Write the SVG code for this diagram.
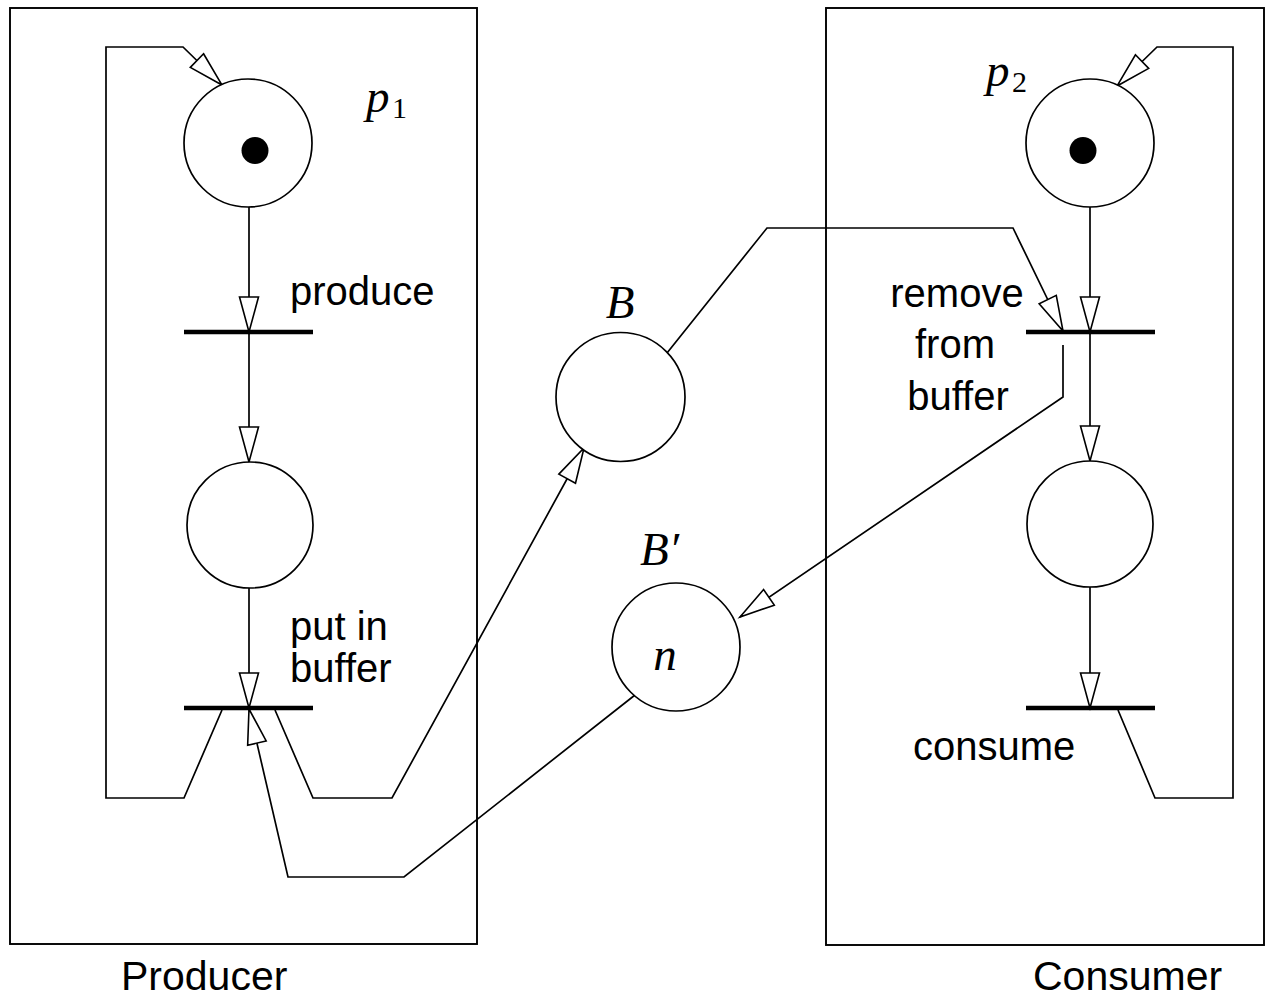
<svg xmlns="http://www.w3.org/2000/svg" width="1274" height="998" viewBox="0 0 1274 998">
  <defs>
    <marker id="open-arrow" markerUnits="userSpaceOnUse" markerWidth="40" markerHeight="24" viewBox="-2 -12 40 24" refX="35" refY="0" orient="auto">
      <path d="M0,-9.5 L35,0 L0,9.5 Z" fill="#fff" stroke="#000" stroke-width="1.6" stroke-linejoin="miter"/>
    </marker>
  </defs>
  <style>
    .box { fill: none; stroke: #000; stroke-width: 1.9; }
    .place { fill: #fff; stroke: #000; stroke-width: 1.7; }
    .token { fill: #000; }
    .bar { stroke: #000; stroke-width: 4.5; }
    .arc { fill: none; stroke: #000; stroke-width: 1.7; stroke-linejoin: miter; }
    .arr { marker-end: url(#open-arrow); }
    .lbl { font-family: "Liberation Sans", Arial, sans-serif; font-size: 40px; fill: #000; }
    .cap { font-family: "Liberation Sans", Arial, sans-serif; font-size: 41px; fill: #000; }
    .math { font-family: "Liberation Serif", "Times New Roman", serif; font-style: italic; font-size: 47px; fill: #000; }
    .sub { font-family: "Liberation Serif", "Times New Roman", serif; font-size: 30px; fill: #000; }
  </style>

  <rect width="1274" height="998" fill="#fff"/>

  <!-- process boundaries -->
  <g id="producer-box">
    <rect class="box" x="10" y="8" width="467" height="936"/>
    <text class="cap" x="121" y="990">Producer</text>
  </g>
  <g id="consumer-box">
    <rect class="box" x="826" y="8" width="438" height="937"/>
    <text class="cap" x="1033" y="990">Consumer</text>
  </g>

  <!-- arcs -->
  <g id="connectors">
    <path class="arc arr" d="M249,207 L249,332"/>
    <path class="arc arr" d="M249,332 L249,462"/>
    <path class="arc arr" d="M249,588 L249,708"/>
    <path class="arc arr" d="M222,710 L184,798 L106,798 L106,47 L183,47 L222,85"/>
    <path class="arc arr" d="M275,710 L313,798 L392,798 L584,448"/>
    <path class="arc arr" d="M635,695 L404,877 L288,877 L249,709"/>
    <path class="arc arr" d="M663,358 L767,228 L1013,228 L1063,331"/>
    <path class="arc arr" d="M1063,345 L1063,397 L740,617"/>
    <path class="arc arr" d="M1090,207 L1090,332"/>
    <path class="arc arr" d="M1090,332 L1090,461"/>
    <path class="arc arr" d="M1090,587 L1090,708"/>
    <path class="arc arr" d="M1118,710 L1155,798 L1233,798 L1233,47 L1157,47 L1117,86"/>
  </g>

  <!-- producer side -->
  <g id="p1">
    <circle class="place" cx="248" cy="143" r="64"/>
    <circle class="token" cx="255" cy="150.5" r="13.5"/>
    <text class="math" x="366" y="112">p</text>
    <text class="sub" x="392" y="118">1</text>
  </g>
  <g id="produce">
    <line class="bar" x1="184" y1="332" x2="313" y2="332"/>
    <text class="lbl" x="290" y="305">produce</text>
  </g>
  <g id="ready-to-deliver">
    <circle class="place" cx="250" cy="525" r="63"/>
  </g>
  <g id="put-in-buffer">
    <line class="bar" x1="184" y1="708" x2="313" y2="708"/>
    <text class="lbl" x="290" y="640">put in</text>
    <text class="lbl" x="290" y="682">buffer</text>
  </g>

  <!-- buffer places -->
  <g id="B">
    <circle class="place" cx="620.5" cy="397" r="64.5"/>
    <text class="math" x="620" y="318" text-anchor="middle">B</text>
  </g>
  <g id="B-prime">
    <circle class="place" cx="676" cy="647" r="64"/>
    <text class="math" x="640" y="565">B′</text>
    <text class="math" x="665" y="670" text-anchor="middle">n</text>
  </g>

  <!-- consumer side -->
  <g id="p2">
    <circle class="place" cx="1090" cy="143" r="64"/>
    <circle class="token" cx="1083" cy="150.5" r="13.5"/>
    <text class="math" x="986" y="86">p</text>
    <text class="sub" x="1012" y="92">2</text>
  </g>
  <g id="remove-from-buffer">
    <line class="bar" x1="1026" y1="332" x2="1155" y2="332"/>
    <text class="lbl" x="957" y="307" text-anchor="middle">remove</text>
    <text class="lbl" x="955" y="358" text-anchor="middle">from</text>
    <text class="lbl" x="958" y="410" text-anchor="middle">buffer</text>
  </g>
  <g id="ready-to-consume">
    <circle class="place" cx="1090" cy="524" r="63"/>
  </g>
  <g id="consume">
    <line class="bar" x1="1026" y1="708" x2="1155" y2="708"/>
    <text class="lbl" x="913" y="760">consume</text>
  </g>
</svg>
